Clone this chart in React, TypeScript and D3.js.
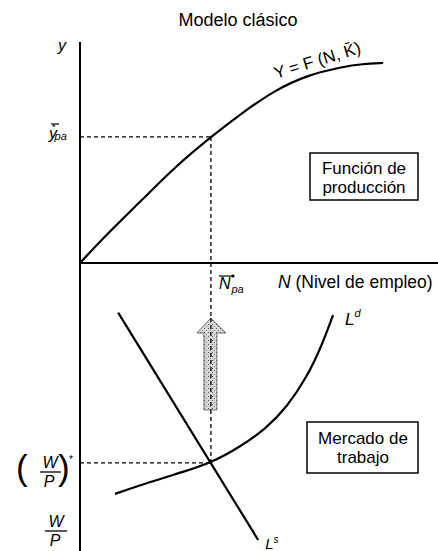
import React from 'react';
import * as d3 from 'd3';

// upper quadrant: production function Y = F(N, K)
const prodN = [0, 0.8, 1.77, 2.71, 3.74, 4.63, 5.57, 6.51, 7.49, 8.06, 8.66];
const prodY = [0, 1.36, 2.86, 4.36, 5.73, 6.82, 7.86, 8.55, 8.91, 9.05, 9.09];

// lower quadrant: labour market
const ldN = [1.0, 2.0, 2.94, 3.74, 4.57, 5.34, 5.91, 6.49, 6.94, 7.23];
const ldW = [2.13, 2.63, 3.04, 3.42, 4.08, 4.88, 5.75, 7.0, 8.42, 9.58];
const lsN = [1.09, 5.09];
const lsW = [9.68, 0.21];

const N_STAR = 3.74;
const Y_STAR = 5.73;
const W_STAR = 3.42;

const W = 438;
const H = 551;
const FONT = '"Liberation Sans", Arial, sans-serif';

export default function App() {
  const x = d3.scaleLinear().domain([0, 10]).range([80, 430]);
  const y = d3.scaleLinear().domain([0, 10]).range([263, 43]);
  const w = d3.scaleLinear().domain([0, 10]).range([545, 305]);

  const prodLine = d3.line<number>()
    .x((d, i) => x(prodN[i]))
    .y(d => y(d))
    .curve(d3.curveBasis);
  const ldLine = d3.line<number>()
    .x((d, i) => x(ldN[i]))
    .y(d => w(d))
    .curve(d3.curveBasis);
  const lsLine = d3.line<number>()
    .x((d, i) => x(lsN[i]))
    .y(d => w(d));

  const xs = x(N_STAR);
  const ys = y(Y_STAR);
  const ws = w(W_STAR);
  const x0 = x(0);
  const y0 = y(0);

  // gray arrow pointing up from the labour market to N*
  const arrow = [
    [xs - 7, 410], [xs - 7, 333], [xs - 14, 333], [xs, 318],
    [xs + 15, 333], [xs + 6, 333], [xs + 6, 410],
  ].map(p => p.join(',')).join(' ');

  const it = { fontStyle: 'italic' as const };
  const ldEnd = [x(ldN[ldN.length - 1]), w(ldW[ldW.length - 1])];
  const lsEnd = [x(lsN[1]), w(lsW[1])];

  return (
    <svg width={W} height={H} style={{ position: 'absolute', left: 0, top: 0, background: '#fff' }}
      fontFamily={FONT}>
      <defs>
        <pattern id="stip" width="4" height="4" patternUnits="userSpaceOnUse">
          <rect width="4" height="4" fill="#d6d6d6" />
          <rect x="0" y="0" width="1" height="1" fill="#555" />
          <rect x="2" y="2" width="1" height="1" fill="#888" />
        </pattern>
      </defs>

      <text x={238} y={26} textAnchor="middle" fontSize={18}>Modelo clásico</text>

      {/* axes */}
      <line x1={x0} y1={42} x2={x0} y2={H} stroke="#000" strokeWidth={2} />
      <line x1={x0} y1={y0} x2={W} y2={y0} stroke="#000" strokeWidth={2} />

      {/* dashed guides */}
      <line x1={x0} y1={ys} x2={xs} y2={ys} stroke="#000" strokeWidth={1.3} strokeDasharray="4,3" />
      <line x1={xs} y1={ys} x2={xs} y2={ws} stroke="#000" strokeWidth={1.3} strokeDasharray="4,3" />
      <line x1={x0} y1={ws} x2={xs} y2={ws} stroke="#000" strokeWidth={1.3} strokeDasharray="4,3" />

      {/* arrow */}
      <polygon points={arrow} fill="url(#stip)" stroke="#555" strokeWidth={0.8} />
      <line x1={xs} y1={318} x2={xs} y2={410} stroke="#000" strokeWidth={1.3} strokeDasharray="4,3" />

      {/* curves */}
      <path d={prodLine(prodY) || ''} fill="none" stroke="#000" strokeWidth={2.2} />
      <path d={ldLine(ldW) || ''} fill="none" stroke="#000" strokeWidth={2.2} />
      <path d={lsLine(lsW) || ''} fill="none" stroke="#000" strokeWidth={2.2} />

      {/* upper labels */}
      <text x={58} y={51} fontSize={16} {...it}>y</text>
      <text x={276} y={79} fontSize={17} transform="rotate(-17 276 79)">Y = F (N, K̄)</text>
      <line x1={51} y1={124} x2={59} y2={124} stroke="#000" strokeWidth={1.2} />
      <text x={49} y={139} fontSize={16} {...it}>
        y<tspan fontSize={9} dy={-9} dx={-5} fontStyle="normal">*</tspan>
        <tspan fontSize={11} dy={10} dx={-1}>pa</tspan>
      </text>

      <text x={278} y={288} fontSize={17.5}><tspan {...it}>N</tspan> (Nivel de empleo)</text>
      <line x1={xs + 8} y1={276} x2={xs + 21} y2={276} stroke="#000" strokeWidth={1.2} />
      <circle cx={xs + 22} cy={276} r={1.6} fill="#000" />
      <text x={xs + 8} y={289} fontSize={16} {...it}>
        N<tspan fontSize={11} dy={4} dx={1}>pa</tspan>
      </text>

      <rect x={310} y={153} width={108} height={47} fill="none" stroke="#000" strokeWidth={1.5} />
      <text x={364} y={174} textAnchor="middle" fontSize={17}>Función de</text>
      <text x={364} y={193} textAnchor="middle" fontSize={17}>producción</text>

      {/* lower labels */}
      <text x={ldEnd[0] + 12} y={ldEnd[1] + 10} fontSize={17} {...it}>
        L<tspan fontSize={11} dy={-8}>d</tspan>
      </text>
      <text x={lsEnd[0] + 7} y={lsEnd[1] + 9} fontSize={15} {...it}>
        L<tspan fontSize={10} dy={-6}>s</tspan>
      </text>

      <rect x={307} y={422} width={111} height={51} fill="none" stroke="#000" strokeWidth={1.5} />
      <text x={363} y={444} textAnchor="middle" fontSize={17}>Mercado de</text>
      <text x={363} y={463} textAnchor="middle" fontSize={17}>trabajo</text>

      {/* (W/P)* */}
      <text x={16} y={480} fontSize={35} fontWeight={300}>(</text>
      <text x={50} y={468} textAnchor="middle" fontSize={16} {...it}>W</text>
      <line x1={40} y1={472} x2={61} y2={472} stroke="#000" strokeWidth={1.3} />
      <text x={49} y={487} textAnchor="middle" fontSize={16} {...it}>P</text>
      <text x={58} y={480} fontSize={35} fontWeight={300}>)</text>
      <text x={69} y={463} fontSize={10}>*</text>

      {/* W/P */}
      <text x={56} y={527} textAnchor="middle" fontSize={16} {...it}>W</text>
      <line x1={45} y1={531} x2={67} y2={531} stroke="#000" strokeWidth={1.3} />
      <text x={55} y={546} textAnchor="middle" fontSize={16} {...it}>P</text>
    </svg>
  );
}
